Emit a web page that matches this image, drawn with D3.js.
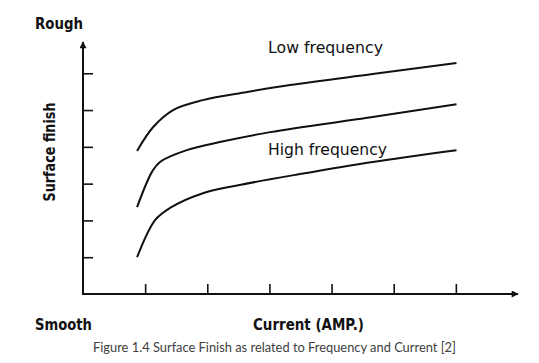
<!DOCTYPE html>
<html>
<head>
<meta charset="utf-8">
<script src="https://cdn.jsdelivr.net/npm/d3@7"></script>
<style>
  body { margin: 0; background: #fff; }
  svg { display: block; }
  .lbl { font-family: "DejaVu Sans", sans-serif; fill: #111; }
</style>
</head>
<body>
<svg id="chart"></svg>
<script>
// tick positions (unitless)
var xTicks = [1, 2, 3, 4, 5, 6];
var yTicks = [1, 2, 3, 4, 5, 6];

// curves, current vs surface finish
var lowX  = [0.87, 1.13, 1.45, 1.93, 2.64, 3.33, 4.66, 6.01];
var lowY  = [3.89, 4.54, 5.00, 5.27, 5.49, 5.68, 5.98, 6.28];
var midX  = [0.87, 1.11, 1.24, 1.67, 2.20, 3.01, 4.66, 6.01];
var midY  = [2.36, 3.32, 3.59, 3.91, 4.13, 4.40, 4.81, 5.16];
var highX = [0.87, 1.16, 1.40, 1.93, 2.48, 3.49, 4.66, 6.01];
var highY = [1.00, 2.01, 2.34, 2.74, 2.95, 3.26, 3.59, 3.91];

var WID = 539, HGT = 363;
var svg = d3.select("#chart").attr("width", WID).attr("height", HGT);

var x = d3.scaleLinear().domain([0, 7]).range([83, 518]);
var y = d3.scaleLinear().domain([0, 6.85]).range([294, 42]);

var defs = svg.append("defs");
defs.append("marker")
    .attr("id", "arrow")
    .attr("viewBox", "0 0 10 10")
    .attr("refX", 9).attr("refY", 5)
    .attr("markerWidth", 5).attr("markerHeight", 3.5)
    .attr("markerUnits", "strokeWidth")
    .attr("orient", "auto")
  .append("path")
    .attr("d", "M0,0L10,5L0,10Z")
    .attr("fill", "#111");

// axes lines with arrows
svg.append("line")
    .attr("x1", x(0)).attr("y1", y(0) + 1)
    .attr("x2", x(0)).attr("y2", y(6.85))
    .attr("stroke", "#111").attr("stroke-width", 2)
    .attr("marker-end", "url(#arrow)");
svg.append("line")
    .attr("x1", x(0) - 1).attr("y1", y(0))
    .attr("x2", x(7)).attr("y2", y(0))
    .attr("stroke", "#111").attr("stroke-width", 2)
    .attr("marker-end", "url(#arrow)");

var gx = svg.append("g")
    .attr("transform", "translate(0," + y(0) + ")")
    .call(d3.axisTop(x).tickValues(xTicks).tickSize(10).tickFormat(""));
var gy = svg.append("g")
    .attr("transform", "translate(" + x(0) + ",0)")
    .call(d3.axisRight(y).tickValues(yTicks).tickSize(10).tickFormat(""));
[gx, gy].forEach(function (g) {
  g.select(".domain").remove();
  g.selectAll(".tick line").attr("stroke", "#111").attr("stroke-width", 1.6);
});

var line = d3.line()
    .x(function (d) { return x(d[0]); })
    .y(function (d) { return y(d[1]); })
    .curve(d3.curveCatmullRom.alpha(0.5));

[[lowX, lowY], [midX, midY], [highX, highY]].forEach(function (s) {
  svg.append("path")
      .datum(d3.zip(s[0], s[1]))
      .attr("fill", "none")
      .attr("stroke", "#111")
      .attr("stroke-width", 2)
      .attr("d", line);
});

// labels
function label(txt, px, py, len, bold, rot) {
  var t = svg.append("text").attr("class", "lbl")
      .attr("font-size", 15.5)
      .attr("font-weight", bold ? "bold" : "normal")
      .attr("textLength", len)
      .attr("lengthAdjust", "spacingAndGlyphs")
      .text(txt);
  if (rot) {
    t.attr("transform", "translate(" + px + "," + py + ") rotate(-90)")
     .attr("text-anchor", "middle");
  } else {
    t.attr("x", px).attr("y", py);
  }
}
label("Rough", 35, 29, 48, true);
label("Smooth", 35, 330, 57, true);
label("Current (AMP.)", 253, 330, 111, true);
label("Surface finish", 55, 152, 99, true, true);
label("Low frequency", 268, 53, 115, false);
label("High frequency", 268, 155, 119, false);

svg.append("text")
    .attr("x", 93).attr("y", 352)
    .attr("font-family", "Lato, 'Open Sans', sans-serif")
    .attr("font-size", 13)
    .attr("fill", "#404040")
    .attr("textLength", 363)
    .attr("lengthAdjust", "spacingAndGlyphs")
    .text("Figure 1.4 Surface Finish as related to Frequency and Current [2]");
</script>
</body>
</html>
